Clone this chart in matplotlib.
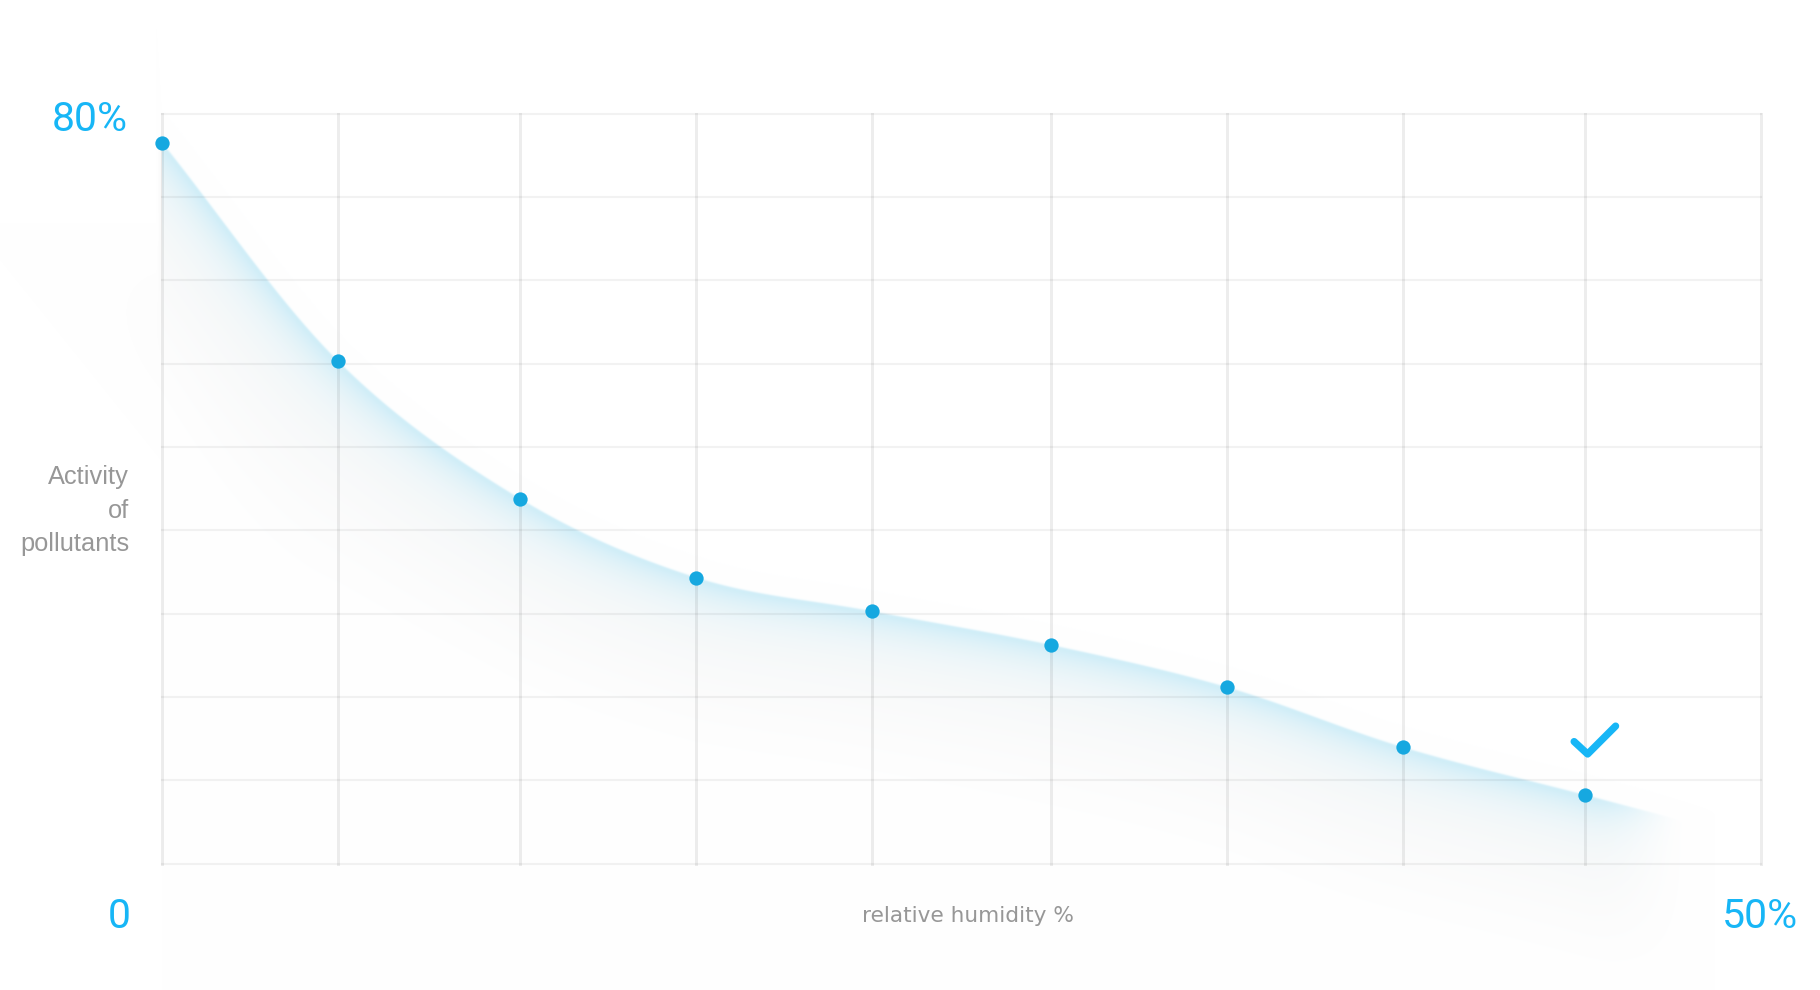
"""Activity of pollutants vs relative humidity -- soft gradient area chart with dots."""
import matplotlib
import numpy as np

matplotlib.use("Agg")
import matplotlib.pyplot as plt
import matplotlib.transforms as mtransforms

W, H, DPI = 1820, 990, 100

# data (x: relative humidity %, y: activity of pollutants %)
humidity = [0, 5.5, 11.2, 16.7, 22.2, 27.8, 33.3, 38.8, 44.5]
activity = [76.9, 53.6, 38.9, 30.5, 26.9, 23.3, 18.8, 12.4, 7.3]
x_max, y_max = 50, 80
n_rows = 9

BLUE_TXT = "#17b6f6"
BLUE_DOT = "#16a8e0"
GREY_TXT = "#979797"


def px(x, y):
    # pixel position (from top-left) -> figure fraction
    return x / W, 1 - y / H


def catmull_rom(P, n=80):
    P = np.asarray(P, float)
    ext = np.vstack([2 * P[0] - P[1], P, 2 * P[-1] - P[-2]])
    t = np.linspace(0, 1, n, endpoint=False)[:, None]
    out = []
    for i in range(1, len(ext) - 2):
        p0, p1, p2, p3 = ext[i - 1], ext[i], ext[i + 1], ext[i + 2]
        out.append(0.5 * (2 * p1 + (-p0 + p2) * t + (2 * p0 - 5 * p1 + 4 * p2 - p3) * t ** 2
                          + (-p0 + 3 * p1 - 3 * p2 + p3) * t ** 3))
    out.append(P[-1:])
    return np.vstack(out)


def smoothstep(a, b, v):
    s = np.clip((v - a) / (b - a), 0, 1)
    return s * s * (3 - 2 * s)


fig = plt.figure(figsize=(W / DPI, H / DPI), dpi=DPI)
fig.patch.set_facecolor("white")
bg = fig.add_axes([0, 0, 1, 1], zorder=0)
ax_l, ax_r, ax_t, ax_b = 162, 1761, 113.5, 863.5
ax = fig.add_axes([ax_l / W, 1 - ax_b / H, (ax_r - ax_l) / W, (ax_b - ax_t) / H], zorder=1)
ax.set_xlim(0, x_max)
ax.set_ylim(0, y_max)
ax.set_facecolor("none")

# --- soft shaded area under the curve (built in pixel space from the data) ---
pts = ax.transData.transform(np.column_stack([humidity, activity]))
curve = catmull_rom(pts)
cx, cy = curve[:, 0], curve[:, 1]
slope = np.gradient(cy, cx)
xs = np.arange(W) + 0.5
ys = np.arange(H) + 0.5
ycur = np.interp(xs, cx, cy)
ycur = np.where(xs < cx[0], cy[0] + slope[0] * (xs - cx[0]), ycur)
ycur = np.where(xs > cx[-1], cy[-1] + slope[-1] * (xs - cx[-1]), ycur)
sl = np.interp(xs, cx, slope)
X, Y = np.meshgrid(xs, ys)
d = (ycur[None, :] - Y) / np.sqrt(1 + sl[None, :] ** 2)   # distance below the curve

left = np.clip(cx[0] - xs, 0, None)[None, :]
right = np.clip(xs - cx[-1], 0, None)[None, :]
soft = 0.6 + 0.3 * left
edge = 1 / (1 + np.exp(-np.clip(d / soft, -50, 50)))

# the shadow left of the axis fades out above the first point
wl = smoothstep(0, 6, left)
top_fade = 1 - smoothstep(cy[0] - 240, cy[0] - 80, Y)
left_fac = (1 - wl * (1 - top_fade)) * np.exp(-(left / 90) ** 2)

grey = 0.021 * edge * (1 - smoothstep(40, 200, d)) * left_fac \
    * (1 - smoothstep(0, 130, right))
blue = 0.2 * edge * np.exp(-np.clip(d, 0, None) / 24) * (1 - smoothstep(0, 100, right)) \
    * (left == 0)

img = np.ones((H, W, 3))
img = img * (1 - grey[..., None])
blue_rgb = np.array([0.09, 0.72, 0.94])
img = img * (1 - blue[..., None]) + blue_rgb * blue[..., None]
bg.imshow(img, extent=[0, W, 0, H], origin="lower", interpolation="bilinear")
bg.set_xlim(0, W)
bg.set_ylim(0, H)
bg.axis("off")

# --- grid ---
ax.set_xticks(humidity + [x_max])
ax.set_yticks(np.linspace(0, y_max, n_rows + 1))
ax.tick_params(length=0, labelbottom=False, labelleft=False)
for s in ax.spines.values():
    s.set_visible(False)
ax.grid(axis="x", color="black", alpha=0.07, lw=2.2)
ax.grid(axis="y", color="black", alpha=0.05, lw=1.6)
ax.set_axisbelow(True)
for gl in ax.get_xgridlines() + ax.get_ygridlines():
    gl.set_clip_on(False)

# --- dots ---
ax.plot(humidity, activity, "o", ms=10.3, mfc=BLUE_DOT, mew=0, zorder=5, clip_on=False)

# --- check mark above the last point (coords in inches from that point) ---
trans = fig.dpi_scale_trans + mtransforms.ScaledTranslation(humidity[-1], activity[-1], ax.transData)
ax.plot([-0.11, 0.025, 0.305], [0.535, 0.41, 0.69], color=BLUE_TXT, lw=5.2,
        solid_capstyle="round", solid_joinstyle="round", transform=trans, clip_on=False, zorder=6)

# --- texts ---
num = dict(family="Roboto", color=BLUE_TXT, fontsize=29.5, va="baseline")
fig.text(*px(128, 130.7), "80%", ha="right", **num)
fig.text(*px(119, 927.7), "0", ha="center", **num)
fig.text(*px(1759.5, 928), "50%", ha="center", **num)

fig.text(*px(968, 922), "relative humidity %", ha="center", va="baseline",
         family="DejaVu Sans", fontsize=15.6, color=GREY_TXT)
lab = dict(family="Liberation Sans", fontsize=18.3, color=GREY_TXT, ha="right", va="baseline")
for txt, yb in [("Activity", 484), ("of", 518), ("pollutants", 551)]:
    fig.text(*px(129, yb), txt, **lab)

fig.savefig("out.png", dpi=DPI, facecolor="white")
